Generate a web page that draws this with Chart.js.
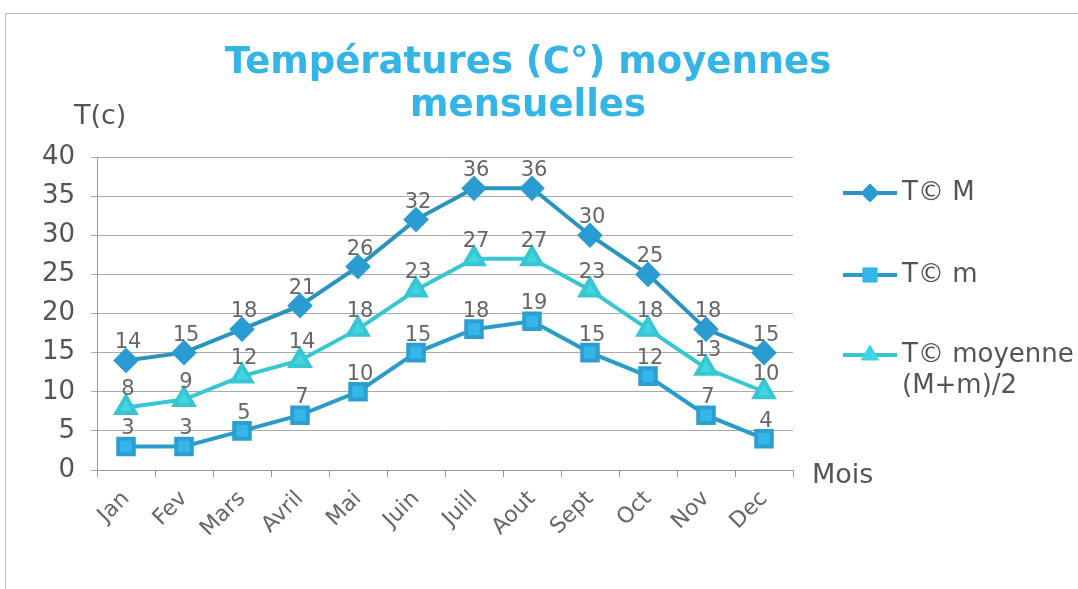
<!DOCTYPE html>
<html>
<head>
<meta charset="utf-8">
<script src="https://cdn.jsdelivr.net/npm/chart.js@4"></script>
<style>
  html, body { margin: 0; padding: 0; background: #fff; }
  #wrap { position: relative; width: 1078px; height: 589px; }
  #frame { position: absolute; left: 5px; top: 13px; right: 0; bottom: 0;
           border-top: 1px solid #bbb; border-left: 1px solid #bbb; pointer-events: none; }
</style>
</head>
<body>
<div id="wrap">
  <canvas id="tempChart" width="1078" height="589"></canvas>
  <div id="frame"></div>
</div>
<script>
const months = ['Jan', 'Fev', 'Mars', 'Avril', 'Mai', 'Juin', 'Juill', 'Aout', 'Sept', 'Oct', 'Nov', 'Dec'];
const tMax = [14, 15, 18, 21, 26, 32, 36, 36, 30, 25, 18, 15];
const tMin = [3, 3, 5, 7, 10, 15, 18, 19, 15, 12, 7, 4];
const tMoy = [8, 9, 12, 14, 18, 23, 27, 27, 23, 18, 13, 10];
const seriesNames = ['T© M', 'T© m', ['T© moyenne', '(M+m)/2']];
const titleLines = ['Températures (C°) moyennes', 'mensuelles'];

const FONT = 'DejaVu Sans, Verdana, sans-serif';

// values above each point
const valueLabels = {
    id: 'valueLabels',
    afterDatasetsDraw(chart) {
        const ctx = chart.ctx;
        ctx.save();
        ctx.font = '21px ' + FONT;
        ctx.fillStyle = '#666';
        ctx.textAlign = 'center';
        ctx.textBaseline = 'bottom';
        chart.data.datasets.forEach((ds, i) => {
            chart.getDatasetMeta(i).data.forEach((pt, j) => {
                ctx.fillText(ds.data[j], pt.x + 2, pt.y - 7);
            });
        });
        ctx.restore();
    }
};

// title, axis names and legend
const extras = {
    id: 'extras',
    afterDraw(chart) {
        const ctx = chart.ctx;
        const area = chart.chartArea;
        ctx.save();
        ctx.fillStyle = '#35b4e6';
        ctx.font = 'bold 37px ' + FONT;
        ctx.textAlign = 'center';
        ctx.textBaseline = 'middle';
        ctx.fillText(titleLines[0], 528, 63);
        ctx.fillText(titleLines[1], 528, 106);

        ctx.fillStyle = '#555';
        ctx.font = '27px ' + FONT;
        ctx.textAlign = 'left';
        ctx.fillText('T(c)', 74, 117);
        ctx.fillText('Mois', area.right + 19, area.bottom + 6);

        const rows = [193, 275, 355];
        chart.data.datasets.forEach((ds, i) => {
            const y = rows[i];
            ctx.strokeStyle = ds.borderColor;
            ctx.lineWidth = 4;
            ctx.beginPath();
            ctx.moveTo(843, y);
            ctx.lineTo(897, y);
            ctx.stroke();
            ctx.fillStyle = ds.pointBackgroundColor;
            ctx.strokeStyle = ds.pointBackgroundColor;
            ctx.lineWidth = 1;
            Chart.helpers.drawPoint(ctx, {
                pointStyle: ds.pointStyle,
                radius: ds.pointRadius - 1,
                rotation: 0,
                borderWidth: 1
            }, 870, y);
            ctx.fillStyle = '#555';
            ctx.font = '26px ' + FONT;
            const name = seriesNames[i];
            const lines = Array.isArray(name) ? name : [name];
            lines.forEach((t, k) => ctx.fillText(t, 902, y + k * 31));
        });
        ctx.restore();
    }
};

new Chart(document.getElementById('tempChart'), {
    type: 'line',
    data: {
        labels: months,
        datasets: [
            {
                label: 'T© M',
                data: tMax,
                borderColor: '#2a94be',
                backgroundColor: '#2a9cd2',
                pointBackgroundColor: '#2a9cd2',
                pointBorderColor: '#2a9cd2',
                pointStyle: 'rectRot',
                pointRadius: 10,
                borderWidth: 4
            },
            {
                label: 'T© m',
                data: tMin,
                borderColor: '#2a9ccb',
                backgroundColor: '#35b6ea',
                pointBackgroundColor: '#35b6ea',
                pointBorderColor: '#2c9fd0',
                pointStyle: 'rect',
                pointRadius: 11,
                borderWidth: 4
            },
            {
                label: 'T© moyenne (M+m)/2',
                data: tMoy,
                borderColor: '#38c6d2',
                backgroundColor: '#42d4e0',
                pointBackgroundColor: '#42d4e0',
                pointBorderColor: '#38c6d2',
                pointStyle: 'triangle',
                pointRadius: 11,
                borderWidth: 4
            }
        ]
    },
    options: {
        responsive: false,
        animation: false,
        layout: { padding: { top: 157, right: 285, left: 0, bottom: 0 } },
        plugins: {
            legend: { display: false },
            title: { display: false },
            tooltip: { enabled: false }
        },
        scales: {
            x: {
                offset: true,
                afterFit(scale) { scale.height = 119; },
                grid: {
                    offset: true,
                    drawOnChartArea: false,
                    drawTicks: true,
                    tickLength: 7,
                    color: '#999'
                },
                border: { color: '#999', width: 1 },
                ticks: {
                    color: '#666',
                    font: { family: FONT, size: 22 },
                    minRotation: 45,
                    maxRotation: 45,
                    padding: 9
                }
            },
            y: {
                min: 0,
                max: 40,
                afterFit(scale) { scale.width = 97; },
                grid: {
                    color: '#aaa',
                    tickLength: 6,
                    lineWidth: 1
                },
                border: { color: '#999', width: 1 },
                ticks: {
                    stepSize: 5,
                    color: '#555',
                    padding: 16,
                    font: { family: FONT, size: 26 }
                }
            }
        }
    },
    plugins: [valueLabels, extras]
});
</script>
</body>
</html>
